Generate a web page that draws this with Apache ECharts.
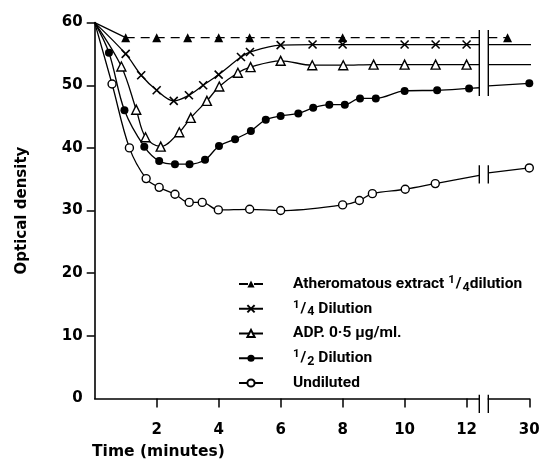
<!DOCTYPE html>
<html><head><meta charset="utf-8">
<script src="https://cdn.jsdelivr.net/npm/echarts@6/dist/echarts.min.js"></script>
<style>html,body{margin:0;padding:0;background:#fff}#c{width:545px;height:462px}</style>
</head><body><div id="c"></div>
<script>
// ---- axes / ticks ----
const yTicks = [0, 10, 20, 30, 40, 50, 60];
const yTickMarks = [10, 20, 30, 40, 50, 60];
const xTicksMain = [2, 4, 6, 8, 10, 12];
const xTicksTail = [30];
const breakStart = 12.41;   // time where the axis is broken
const breakEnd = 28.68;     // time where the axis resumes
const tailMax = 30;
const startT = 0, startV = 60;

// ---- series names ----
const names = ['Atheromatous extract 1/4dilution', '1/4 Dilution', 'ADP. 0\u00b75 \u00b5g/ml.', '1/2 Dilution', 'Undiluted'];

// ---- Atheromatous extract 1/4 dilution ----
const athT = [1, 2, 3, 4, 5, 8];
const athV = [57.6, 57.6, 57.6, 57.6, 57.6, 57.6];
const athEdge = [57.6, 57.6];
const athTailT = [29.3];
const athTailV = [57.6];

// ---- 1/4 Dilution ----
const qT = [1, 1.5, 2, 2.55, 3.04, 3.5, 4, 4.72, 5.01, 6, 7.03, 8, 10, 11, 12];
const qV = [55.0, 51.6, 49.2, 47.5, 48.4, 50.0, 51.7, 54.5, 55.3, 56.4, 56.5, 56.5, 56.5, 56.5, 56.5];
const qEdge = [56.5, 56.5];
const qTailEnd = [30.18, 56.5];

// ---- ADP 0.5 ug/ml ----
const adpT = [0.86, 1.34, 1.64, 2.13, 2.73, 3.1, 3.62, 4.02, 4.62, 5.03, 6, 7.02, 8.02, 9, 10, 11, 12];
const adpV = [53.0, 46.1, 41.7, 40.2, 42.5, 44.8, 47.5, 49.8, 52.0, 52.9, 53.9, 53.2, 53.2, 53.3, 53.3, 53.3, 53.3];
const adpEdge = [53.3, 53.3];
const adpTailEnd = [30.18, 53.3];

// ---- 1/2 Dilution ----
const hT = [0.46, 0.96, 1.6, 2.08, 2.59, 3.06, 3.56, 4.01, 4.53, 5.04, 5.52, 6.0, 6.57, 7.05, 7.57, 8.07, 8.56, 9.07, 10.0, 11.05, 12.08];
const hV = [55.2, 46.0, 40.2, 37.9, 37.4, 37.4, 38.1, 40.3, 41.4, 42.7, 44.5, 45.1, 45.5, 46.4, 46.9, 46.9, 47.9, 47.9, 49.1, 49.2, 49.5];
const hEdge = [49.6, 49.9];
const hTailT = [30];
const hTailV = [50.3];

// ---- Undiluted ----
const uT = [0.56, 1.12, 1.66, 2.08, 2.59, 3.05, 3.47, 3.99, 5.0, 6.0, 8.0, 8.54, 8.96, 10.02, 10.99];
const uV = [50.2, 40.0, 35.1, 33.7, 32.6, 31.3, 31.3, 30.1, 30.2, 30.0, 30.9, 31.6, 32.7, 33.4, 34.3];
const uEdge = [35.6, 36.0];
const uTailT = [30];
const uTailV = [36.8];

// ---- break marks: [low, high] value ranges crossed by the double bars ----
const breakBars = [[48.3, 58.8], [34.3, 37.25], [-2.3, 0.6]];

// ---- build ----
const pts = (T, V) => T.map((t, i) => [t, V[i]]);
const blank = (t, v) => ({ value: [t, v], symbol: 'none' });
const lineStyle = { color: '#000', width: 1.3 };

const sym = {
  ath: { symbol: 'triangle', symbolSize: 9, itemStyle: { color: '#000' } },
  q: { symbol: 'path://M0,0L10,10M10,0L0,10', symbolSize: 8, itemStyle: { color: '#000', borderColor: '#000', borderWidth: 1.6 } },
  adp: { symbol: 'triangle', symbolSize: 9, itemStyle: { color: '#fff', borderColor: '#000', borderWidth: 1.4 } },
  h: { symbol: 'circle', symbolSize: 8, itemStyle: { color: '#000' } },
  u: { symbol: 'circle', symbolSize: 8, itemStyle: { color: '#fff', borderColor: '#000', borderWidth: 1.4 } }
};

function mainSeries(name, s, data, extra) {
  return Object.assign({ name: name, type: 'line', xAxisIndex: 0, yAxisIndex: 0, smooth: 0.35,
    data: data, lineStyle: Object.assign({}, lineStyle), z: 3 }, s, extra || {});
}
function tailSeries(name, s, data, extra) {
  return Object.assign({ name: name + ' (30)', type: 'line', xAxisIndex: 1, yAxisIndex: 1,
    data: data, lineStyle: Object.assign({}, lineStyle), clip: false, z: 3 }, s, extra || {});
}

const series = [
  mainSeries(names[0], sym.ath, [...pts(athT, athV), blank(breakStart, athEdge[0])],
    { smooth: false, lineStyle: { color: '#000', width: 1.4, type: [9, 6] } }),
  mainSeries(names[1], sym.q, [blank(startT, startV), ...pts(qT, qV), blank(breakStart, qEdge[0])]),
  mainSeries(names[2], sym.adp, [blank(startT, startV), ...pts(adpT, adpV), blank(breakStart, adpEdge[0])]),
  mainSeries(names[3], sym.h, [blank(startT, startV), ...pts(hT, hV), blank(breakStart, hEdge[0])]),
  mainSeries(names[4], sym.u, [blank(startT, startV), ...pts(uT, uV), blank(breakStart, uEdge[0])]),
  // solid lead-in of the atheromatous curve
  mainSeries('athero-start', { symbol: 'none' }, [[startT, startV], [athT[0], athV[0]]], { smooth: false }),
  // after the break
  tailSeries(names[0], sym.ath, [blank(breakEnd, athEdge[1]), ...pts(athTailT, athTailV)],
    { lineStyle: { color: '#000', width: 1.4, type: [9, 6] } }),
  tailSeries(names[1], sym.q, [blank(breakEnd, qEdge[1]), blank(qTailEnd[0], qTailEnd[1])]),
  tailSeries(names[2], sym.adp, [blank(breakEnd, adpEdge[1]), blank(adpTailEnd[0], adpTailEnd[1])]),
  tailSeries(names[3], sym.h, [blank(breakEnd, hEdge[1]), ...pts(hTailT, hTailV)]),
  tailSeries(names[4], sym.u, [blank(breakEnd, uEdge[1]), ...pts(uTailT, uTailV)])
];

function barRender(params, api) {
  const p1 = api.coord([api.value(0), api.value(1)]);
  const p2 = api.coord([api.value(0), api.value(2)]);
  return { type: 'line', shape: { x1: p1[0], y1: p1[1], x2: p2[0], y2: p2[1] },
    style: { stroke: '#000', lineWidth: 1.4 } };
}
series.push({ name: 'break-left', type: 'custom', xAxisIndex: 0, yAxisIndex: 0, clip: false, z: 5,
  renderItem: barRender, data: breakBars.map(b => [breakStart, b[0], b[1]]) });
series.push({ name: 'break-right', type: 'custom', xAxisIndex: 1, yAxisIndex: 1, clip: false, z: 5,
  renderItem: barRender, data: breakBars.map(b => [breakEnd, b[0], b[1]]) });

const tickFont = { fontFamily: 'DejaVu Sans', fontWeight: 'bold', fontSize: 15, color: '#000' };
const axisLineStyle = { color: '#000', width: 1.6 };

// legend text: fractions drawn as superscript / subscript digits
function legendLabel(name) {
  return name.replace(/(\d)\/(\d)(?=\s?[Dd])/, '{sup|$1}{n|/}{sub|$2}')
    .split(/(\{[^}]*\})/).map(p => (p.startsWith('{') || p === '') ? p : '{n|' + p + '}').join('');
}
const legendFont = { fontFamily: 'Roboto', fontWeight: 'bold', color: '#000' };

const option = {
  animation: false,
  backgroundColor: '#fff',
  grid: [
    { left: 94.7, right: 545 - 479.3, top: 22.6, bottom: 462 - 398.5 },
    { left: 488.3, right: 545 - 529.3, top: 22.6, bottom: 462 - 398.5 }
  ],
  xAxis: [
    { gridIndex: 0, type: 'value', min: 0, max: breakStart, interval: 2,
      axisLine: { show: true, onZero: false, lineStyle: axisLineStyle },
      axisTick: { show: true, customValues: xTicksMain, length: 9, lineStyle: { color: '#000', width: 1.5 } },
      axisLabel: Object.assign({ customValues: xTicksMain, margin: 24 }, tickFont),
      splitLine: { show: false } },
    { gridIndex: 1, type: 'value', min: breakEnd, max: tailMax,
      axisLine: { show: true, onZero: false, lineStyle: axisLineStyle },
      axisTick: { show: true, customValues: xTicksTail, length: 9, lineStyle: { color: '#000', width: 1.5 } },
      axisLabel: Object.assign({ customValues: xTicksTail, margin: 24, showMaxLabel: true }, tickFont),
      splitLine: { show: false } }
  ],
  yAxis: [
    { gridIndex: 0, type: 'value', min: 0, max: 60, interval: 10,
      axisLine: { show: true, onZero: false, lineStyle: axisLineStyle },
      axisTick: { show: true, customValues: yTickMarks, length: 8, lineStyle: { color: '#000', width: 1.5 } },
      axisLabel: Object.assign({ customValues: yTicks, margin: 12 }, tickFont),
      splitLine: { show: false },
      name: 'Optical density', nameLocation: 'middle', nameGap: 65,
      nameTextStyle: { fontFamily: 'DejaVu Sans', fontWeight: 'bold', fontSize: 15, color: '#000' } },
    { gridIndex: 1, type: 'value', min: 0, max: 60, show: false }
  ],
  legend: {
    data: names, orient: 'vertical', left: 238, top: 274, padding: 0,
    itemWidth: 24, itemHeight: 9, itemGap: 4.75, selectedMode: false,
    formatter: legendLabel,
    textStyle: { fontFamily: 'Roboto', fontWeight: 'bold', fontSize: 15, color: '#000', padding: [0, 0, 0, 25], lineHeight: 20,
      rich: {
        n: Object.assign({ fontSize: 15.5, lineHeight: 20, verticalAlign: 'middle' }, legendFont),
        sup: Object.assign({ fontSize: 11.5, lineHeight: 20, verticalAlign: 'top', padding: [0, 1, 0, 0] }, legendFont),
        sub: Object.assign({ fontSize: 12.5, lineHeight: 20, verticalAlign: 'bottom', padding: [0, 0, 0, 1] }, legendFont)
      } }
  },
  graphic: [
    { type: 'text', left: 92, top: 444,
      style: { text: 'Time (minutes)', font: 'bold 15.5px "DejaVu Sans"', fill: '#000' } }
  ],
  series: series
};

const chart = echarts.init(document.getElementById('c'), null, { renderer: 'canvas' });
chart.setOption(option);
</script>
</body></html>
